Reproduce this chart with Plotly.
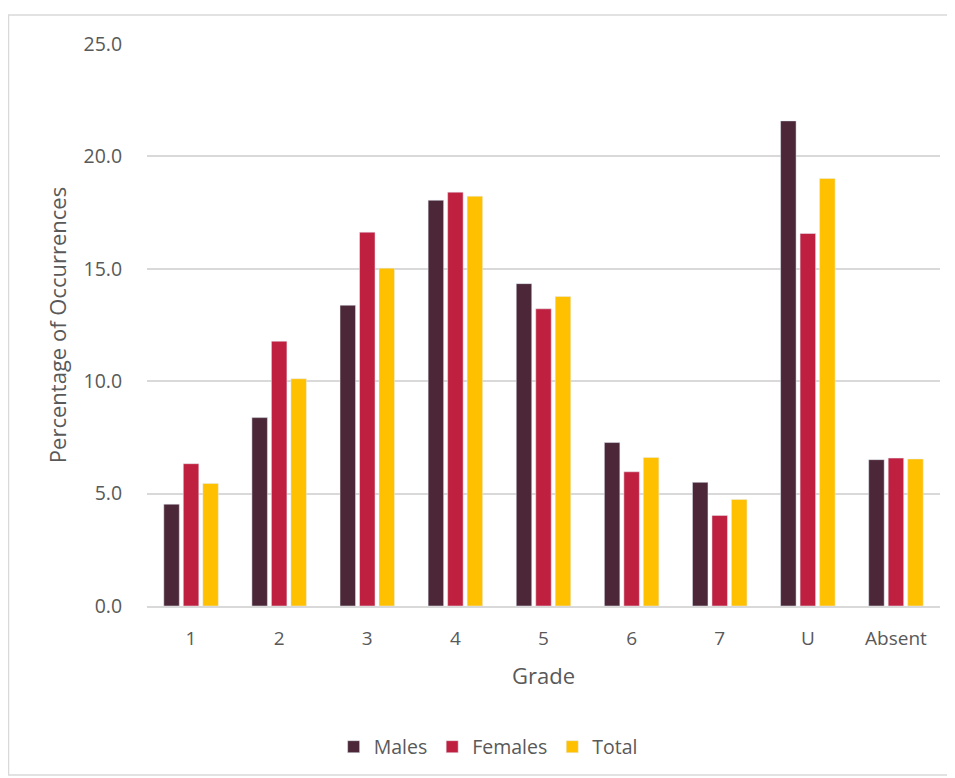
import plotly.graph_objects as go

grades = ["1", "2", "3", "4", "5", "6", "7", "U", "Absent"]
males = [4.53, 8.38, 13.38, 18.05, 14.34, 7.27, 5.50, 21.58, 6.51]
females = [6.33, 11.78, 16.63, 18.41, 13.22, 5.97, 4.03, 16.57, 6.58]
total = [5.45, 10.11, 15.03, 18.23, 13.77, 6.61, 4.74, 19.02, 6.54]

font_family = "Open Sans, Liberation Sans, sans-serif"
fig = go.Figure()
fig.add_trace(go.Bar(name="Males", x=grades, y=males, marker_color="#4b2737"))
fig.add_trace(go.Bar(name="Females", x=grades, y=females, marker_color="#c0203f"))
fig.add_trace(go.Bar(name="Total", x=grades, y=total, marker_color="#ffc000"))

# page has an 8px body margin; figure coords = screen coords - 8
W, H = 947, 770
L, T = 139, 36
pw, ph = 793, 562
R, B = W - L - pw, H - T - ph

def px(x):
    return (x - L) / pw

def py(y):
    return (H - B - y) / ph

fig.update_layout(
    width=W, height=H,
    margin=dict(l=L, r=R, t=T, b=B, autoexpand=False),
    paper_bgcolor="white", plot_bgcolor="white",
    barmode="group", bargap=0.336, bargroupgap=0.205,
    font=dict(family=font_family, color="#595959", size=19),
    legend=dict(orientation="h", x=0.507, xanchor="center", xref="container",
                y=(H - 739) / H, yanchor="middle", yref="container",
                font=dict(size=19.5, color="#595959"),
                traceorder="normal"),
    showlegend=True,
    xaxis=dict(showgrid=False, showline=True, linecolor="#d9d9d9", linewidth=1.5,
               ticks="", tickangle=0, ticklabelstandoff=14,
               tickfont=dict(size=19, color="#595959"),
               title=dict(text="Grade", font=dict(size=22, color="#595959"), standoff=19)),
    yaxis=dict(range=[0, 25], dtick=5, tickformat=".1f", showgrid=True,
               gridcolor="#d9d9d9", gridwidth=1.5, zeroline=False, showline=False,
               ticks="outside", ticklen=20, tickcolor="white",
               tickfont=dict(size=19.5, color="#595959"),
               title=dict(text="Percentage of Occurrences", font=dict(size=22, color="#595959"), standoff=10)),
    shapes=[dict(type="rect", xref="paper", yref="paper",
                 x0=px(0.5), x1=px(940), y0=py(767), y1=py(7),
                 line=dict(color="#d9d9d9", width=1.5), fillcolor="rgba(0,0,0,0)", layer="below")],
)
fig.write_html("out.html")
